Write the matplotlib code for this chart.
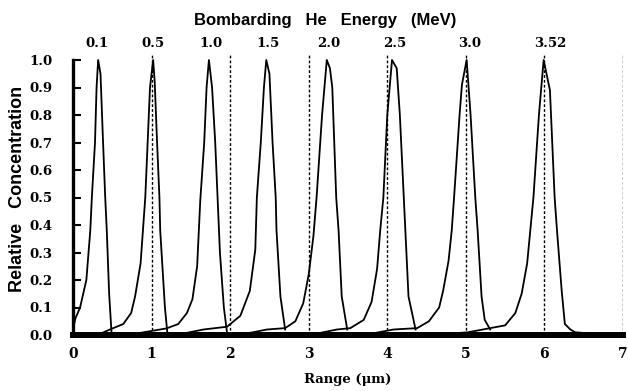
import matplotlib
matplotlib.use("Agg")
import matplotlib.pyplot as plt

# energies (MeV) shown on top, and where their peaks sit
energy_labels = ["0.1", "0.5", "1.0", "1.5", "2.0", "2.5", "3.0", "3.52"]
peak_pos = [0.31, 1.02, 1.76, 2.48, 3.26, 4.09, 5.05, 6.07]

# profiles (range in um, relative concentration)
x_01 = [0.00, 0.03, 0.09, 0.17, 0.22, 0.24, 0.28, 0.30, 0.32, 0.35, 0.38, 0.41, 0.43, 0.46, 0.49]
y_01 = [0.02, 0.06, 0.10, 0.20, 0.38, 0.50, 0.70, 0.90, 1.00, 0.95, 0.72, 0.50, 0.38, 0.15, 0.01]

x_05 = [0.35, 0.47, 0.64, 0.74, 0.79, 0.86, 0.89, 0.92, 0.95, 0.98, 1.02, 1.04, 1.07, 1.10, 1.11, 1.17, 1.20]
y_05 = [0.005, 0.02, 0.04, 0.08, 0.14, 0.26, 0.38, 0.50, 0.70, 0.90, 1.00, 0.92, 0.70, 0.50, 0.38, 0.10, 0.01]

x_10 = [0.80, 1.19, 1.34, 1.45, 1.52, 1.58, 1.62, 1.67, 1.70, 1.73, 1.77, 1.81, 1.84, 1.87, 1.92, 1.96]
y_10 = [0.005, 0.024, 0.04, 0.08, 0.13, 0.25, 0.49, 0.70, 0.90, 1.00, 0.90, 0.70, 0.50, 0.30, 0.10, 0.01]

x_15 = [1.40, 1.66, 1.96, 2.13, 2.25, 2.32, 2.34, 2.39, 2.43, 2.46, 2.50, 2.54, 2.58, 2.59, 2.64, 2.70]
y_15 = [0.005, 0.02, 0.03, 0.07, 0.16, 0.31, 0.50, 0.70, 0.90, 1.00, 0.95, 0.70, 0.50, 0.38, 0.14, 0.02]

x_20 = [2.20, 2.47, 2.70, 2.83, 2.93, 3.00, 3.06, 3.10, 3.17, 3.23, 3.27, 3.30, 3.35, 3.38, 3.42, 3.49]
y_20 = [0.005, 0.02, 0.025, 0.05, 0.115, 0.22, 0.36, 0.50, 0.80, 1.00, 0.97, 0.90, 0.50, 0.38, 0.14, 0.02]

x_25 = [3.10, 3.36, 3.53, 3.70, 3.80, 3.87, 3.91, 3.95, 4.00, 4.06, 4.12, 4.16, 4.21, 4.23, 4.27, 4.36]
y_25 = [0.005, 0.02, 0.025, 0.055, 0.12, 0.24, 0.38, 0.50, 0.80, 1.00, 0.97, 0.80, 0.50, 0.38, 0.14, 0.02]

x_30 = [3.80, 4.08, 4.38, 4.53, 4.66, 4.71, 4.78, 4.82, 4.85, 4.92, 4.95, 5.01, 5.06, 5.12, 5.15, 5.20, 5.24, 5.31]
y_30 = [0.005, 0.02, 0.025, 0.05, 0.10, 0.16, 0.27, 0.38, 0.50, 0.80, 0.91, 1.00, 0.80, 0.50, 0.38, 0.14, 0.055, 0.02]

x_352 = [4.80, 5.03, 5.31, 5.50, 5.63, 5.71, 5.78, 5.82, 5.86, 5.93, 5.99, 6.07, 6.13, 6.16, 6.22, 6.26, 6.33, 6.39, 6.60]
y_352 = [0.005, 0.01, 0.025, 0.035, 0.08, 0.15, 0.26, 0.38, 0.50, 0.80, 1.00, 0.89, 0.50, 0.38, 0.16, 0.04, 0.02, 0.01, 0.005]

profiles = [(x_01, y_01), (x_05, y_05), (x_10, y_10), (x_15, y_15),
            (x_20, y_20), (x_25, y_25), (x_30, y_30), (x_352, y_352)]

range_ticks = [0, 1, 2, 3, 4, 5, 6, 7]
conc_ticks = [0.0, 0.1, 0.2, 0.3, 0.4, 0.5, 0.6, 0.7, 0.8, 0.9, 1.0]
marker_lines = [1, 2, 3, 4, 5, 6, 7]

fig = plt.figure(figsize=(6.28, 3.91), dpi=100)
ax = fig.add_axes([73 / 628, 1 - 335 / 391, 550 / 628, (335 - 51.75) / 391])

for xs, ys in profiles:
    ax.plot(xs, ys, color="black", lw=1.3)

ax.vlines(marker_lines, 0, 1.02, colors="black", linestyles=(0, (2, 1.5)), lw=1.0)

ax.set_xlim(0, 7)
ax.set_ylim(0, 1.03)
ax.spines["top"].set_visible(False)
ax.spines["right"].set_visible(False)
ax.spines["left"].set_linewidth(2.4)
ax.spines["left"].set_bounds(0, 1.0)
ax.spines["bottom"].set_linewidth(4.3)
ax.spines["bottom"].set_zorder(5)

serif = "DejaVu Serif"
ax.set_xticks(range_ticks)
ax.set_xticklabels([str(t) for t in range_ticks], fontfamily=serif, fontweight="bold", fontsize=10)
ax.tick_params(axis="x", length=0, pad=9)
ax.set_yticks(conc_ticks)
ax.set_yticklabels(["%.1f" % t for t in conc_ticks], fontfamily=serif, fontweight="bold", fontsize=9.5)
ax.tick_params(axis="y", direction="in", length=6, width=1.5, pad=15)

top = ax.twiny()
top.set_xlim(ax.get_xlim())
top.set_xticks(peak_pos)
top.set_xticklabels(energy_labels, fontfamily=serif, fontweight="bold", fontsize=9.5)
top.tick_params(axis="x", length=0, pad=1)
for s in top.spines.values():
    s.set_visible(False)

ax.set_xlabel("Range (\u03bcm)", fontfamily=serif, fontweight="bold", fontsize=9.5, labelpad=8)
fig.text(18 / 628, 1 - 189 / 391, "Relative   Concentration", rotation=90,
         ha="center", va="center", fontfamily="Liberation Sans", fontweight="bold", fontsize=13)
fig.text(325 / 628, 1 - 20 / 391, "Bombarding   He   Energy   (MeV)",
         ha="center", va="center", fontfamily="Liberation Sans", fontweight="bold", fontsize=12)

fig.savefig("out.png", dpi=100)
